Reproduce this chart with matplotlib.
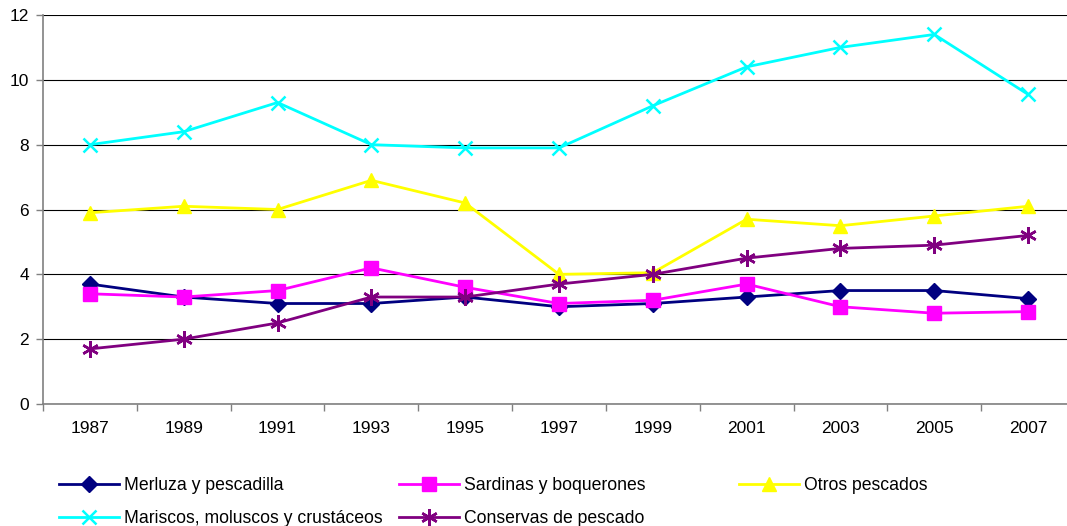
import numpy as np
import matplotlib.pyplot as plt

plt.rcParams['font.family'] = ['Liberation Sans', 'DejaVu Sans']

years = ['1987', '1989', '1991', '1993', '1995', '1997', '1999', '2001', '2003', '2005', '2007']
merluza = [3.7, 3.3, 3.1, 3.1, 3.3, 3.0, 3.1, 3.3, 3.5, 3.5, 3.25]
sardinas = [3.4, 3.3, 3.5, 4.2, 3.6, 3.1, 3.2, 3.7, 3.0, 2.8, 2.85]
otros = [5.9, 6.1, 6.0, 6.9, 6.2, 4.0, 4.05, 5.7, 5.5, 5.8, 6.1]
mariscos = [8.0, 8.4, 9.3, 8.0, 7.9, 7.9, 9.2, 10.4, 11.0, 11.4, 9.55]
conservas = [1.7, 2.0, 2.5, 3.3, 3.3, 3.7, 4.0, 4.5, 4.8, 4.9, 5.2]

W, H = 1067, 526
fig = plt.figure(figsize=(W / 100, H / 100), dpi=100)
# eje: x 43..1075 px, y 15..404 px
ax = fig.add_axes([43 / W, (H - 404) / H, (1075 - 43) / W, (404 - 15) / H])

x = np.arange(len(years))
lw = 2.0
series = [
    ('Merluza y pescadilla', merluza, '#000080', 'D', 8.5, True),
    ('Sardinas y boquerones', sardinas, '#FF00FF', 's', 10, True),
    ('Otros pescados', otros, '#FFFF00', '^', 10, True),
    ('Mariscos, moluscos y crustáceos', mariscos, '#00FFFF', 'x', 10, False),
    ('Conservas de pescado', conservas, '#800080', (6, 2, 0), 12, False),
]
handles = {}
for name, vals, col, mk, ms, filled in series:
    if filled:
        ln, = ax.plot(x, vals, color=col, lw=lw, marker=mk, ms=ms,
                      mfc=col, mec=col, label=name, zorder=3)
    else:
        ln, = ax.plot(x, vals, color=col, lw=lw, marker=mk, ms=ms,
                      mec=col, mew=1.8, label=name, zorder=3)
    handles[name] = ln

ax.set_xlim(-0.5, len(years) - 0.5)
ax.set_ylim(0, 12)
ax.set_yticks(np.arange(0, 13, 2))
ax.set_xticks(np.arange(-0.5, len(years), 1))
ax.set_xticklabels([])
ax.set_xticks(x, minor=True)
ax.set_xticklabels(years, minor=True)
ax.tick_params(axis='x', which='minor', length=0, pad=12, labelsize=12.5)
ax.tick_params(axis='x', which='major', length=5, width=1, color='#808080', direction='out')
ax.tick_params(axis='y', length=5, width=1, color='#808080', labelsize=12.5, pad=5)

for s in ['top', 'right']:
    ax.spines[s].set_visible(False)
for s in ['left', 'bottom']:
    ax.spines[s].set_color('#808080')
    ax.spines[s].set_linewidth(1.2)
ax.yaxis.grid(True, color='black', lw=0.8)
ax.set_axisbelow(True)

# leyenda en tres columnas, como en el original
cols = [
    (59, ['Merluza y pescadilla', 'Mariscos, moluscos y crustáceos']),
    (399, ['Sardinas y boquerones', 'Conservas de pescado']),
    (739, ['Otros pescados']),
]
for px, names in cols:
    fig.legend([handles[n] for n in names], names,
               loc='upper left', bbox_to_anchor=(px / W, (H - 477) / H),
               frameon=False, fontsize=12.7, borderpad=0, borderaxespad=0,
               handlelength=3.4, handletextpad=0.3, labelspacing=0.9)

fig.savefig('out.png', dpi=100)
